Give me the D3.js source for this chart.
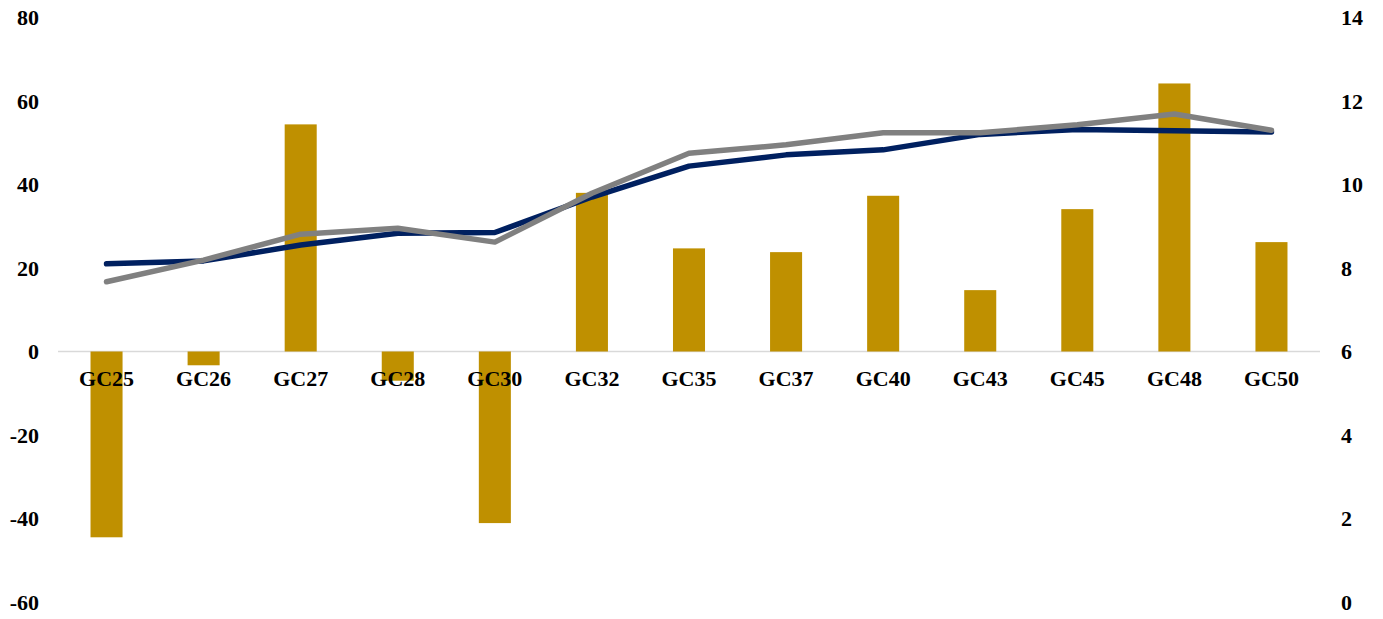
<!DOCTYPE html>
<html>
<head>
<meta charset="utf-8">
<script src="https://cdn.jsdelivr.net/npm/d3@7"></script>
<style>
  html, body { margin: 0; padding: 0; background: #fff; }
  svg text { font-family: "Liberation Serif", "DejaVu Serif", serif !important; font-weight: bold; fill: #000; }
</style>
</head>
<body>
<svg id="chart" width="1383" height="619"></svg>
<script>
const categories = ["GC25","GC26","GC27","GC28","GC30","GC32","GC35","GC37","GC40","GC43","GC45","GC48","GC50"];
const barValues  = [-44.5, -3.3, 54.4, -7.0, -41.1, 38.0, 24.7, 23.8, 37.3, 14.7, 34.1, 64.2, 26.2];
const navyValues = [8.10, 8.17, 8.55, 8.83, 8.85, 9.70, 10.44, 10.71, 10.83, 11.20, 11.32, 11.29, 11.26];
const grayValues = [7.67, 8.19, 8.81, 8.95, 8.62, 9.79, 10.75, 10.95, 11.24, 11.24, 11.43, 11.69, 11.30];
const leftTicks  = [-60, -40, -20, 0, 20, 40, 60, 80];
const rightTicks = [0, 2, 4, 6, 8, 10, 12, 14];

const svg = d3.select("#chart");
const plotTop = 17.5, plotBottom = 602;
const plotLeft = 58, plotRight = 1320;
const FONT = '"Liberation Serif", "DejaVu Serif", serif';

const x = d3.scaleBand().domain(categories).range([plotLeft, plotRight]).paddingInner(0.67).paddingOuter(0.335);
const yL = d3.scaleLinear().domain([-60, 80]).range([plotBottom, plotTop]);
const yR = d3.scaleLinear().domain([0, 14]).range([plotBottom, plotTop]);

// zero gridline
svg.append("line")
  .attr("x1", plotLeft).attr("x2", plotRight)
  .attr("y1", yL(0)).attr("y2", yL(0))
  .attr("stroke", "#d9d9d9").attr("stroke-width", 1.5);

// bars
svg.append("g").selectAll("rect").data(barValues).join("rect")
  .attr("x", (d, i) => x(categories[i]))
  .attr("width", x.bandwidth())
  .attr("y", d => Math.min(yL(d), yL(0)))
  .attr("height", d => Math.abs(yL(d) - yL(0)))
  .attr("fill", "#BF9000");

// category labels
const gx = svg.append("g").attr("transform", `translate(0,${yL(0)})`)
  .call(d3.axisBottom(x).tickSize(0).tickPadding(0));
gx.attr("font-family", FONT);
gx.select(".domain").remove();
gx.selectAll("text").attr("font-size", 22).attr("dy", 0).attr("y", 34)
  .attr("font-weight", "bold").attr("fill", "#000");

// lines
const line = vals => d3.line()
  .x((d, i) => x(categories[i]) + x.bandwidth() / 2)
  .y(d => yR(d))(vals);

svg.append("path").attr("d", line(navyValues))
  .attr("fill", "none").attr("stroke", "#002060").attr("stroke-width", 5.5)
  .attr("stroke-linecap", "round").attr("stroke-linejoin", "round");
svg.append("path").attr("d", line(grayValues))
  .attr("fill", "none").attr("stroke", "#808080").attr("stroke-width", 5.5)
  .attr("stroke-linecap", "round").attr("stroke-linejoin", "round");

// left axis
const gl = svg.append("g").attr("transform", "translate(39,0)")
  .call(d3.axisLeft(yL).tickValues(leftTicks).tickSize(0).tickPadding(0).tickFormat(d => String(d)));
gl.attr("font-family", FONT);
gl.select(".domain").remove();
gl.selectAll("text").attr("font-size", 22).attr("dy", "0.32em")
  .attr("font-weight", "bold").attr("fill", "#000");

// right axis
const gr = svg.append("g").attr("transform", "translate(1341,0)")
  .call(d3.axisRight(yR).tickValues(rightTicks).tickSize(0).tickPadding(0).tickFormat(d => String(d)));
gr.attr("font-family", FONT);
gr.select(".domain").remove();
gr.selectAll("text").attr("font-size", 22).attr("dy", "0.32em")
  .attr("font-weight", "bold").attr("fill", "#000");
</script>
</body>
</html>
